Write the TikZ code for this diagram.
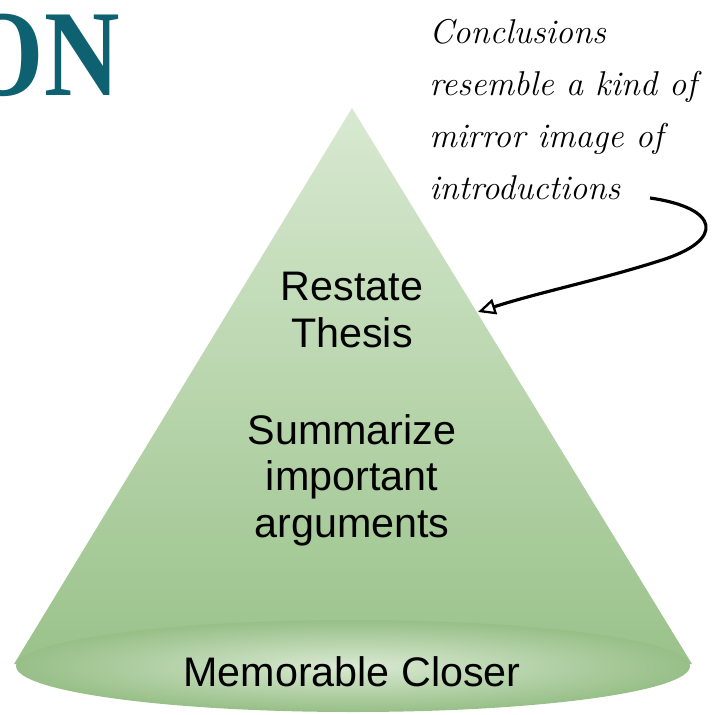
\documentclass[tikz,border=0pt]{standalone}
\usepackage{fontspec}
\newfontfamily\labelfont{Liberation Sans}
\newfontfamily\titlefont{Liberation Serif}
\usetikzlibrary{arrows.meta}

\definecolor{titleteal}{HTML}{0E6170}
\definecolor{conetop}{HTML}{D8E9D1}
\definecolor{conebottom}{HTML}{9AC28A}
\definecolor{baseinner}{HTML}{D9E9D2}
\definecolor{baseouter}{HTML}{97BF87}

\tikzset{
  step text/.style={font=\labelfont\fontsize{23.5}{26.5}\selectfont, align=center},
  note text/.style={font=\itshape\fontsize{19.6}{29.5}\selectfont, align=left, anchor=north west, inner sep=0pt},
  note arrow/.style={line width=1.8pt, -{Triangle[open, length=10pt, width=9pt, line width=1.3pt]}},
}

\begin{document}
\begin{tikzpicture}[x=0.02cm, y=-0.02cm]
  \useasboundingbox (0,0) rectangle (711,715);
  \begin{scope}
    \clip (0,0) rectangle (711,715);
    % cone
    \shade[top color=conetop, bottom color=conebottom] (352,108) -- (692,664) -- (14,664) -- cycle;
    \shade[inner color=baseinner, outer color=baseouter] (353,666) ellipse (337 and 46);
    % title fragment
    \node[anchor=south east, inner sep=0pt, text=titleteal, xscale=0.85,
          font=\titlefont\bfseries\fontsize{70}{70}\selectfont] (title) at (120,97) {ON};
  \end{scope}

  \node[step text] (restate) at (352,310) {Restate\\Thesis};
  \node[step text] (summary) at (352,480) {Summarize\\important\\arguments};
  \node[step text] (closer) at (352,672) {Memorable Closer};

  \node[note text] (note) at (429,19) {Conclusions\\resemble a kind of\\mirror image of\\introductions};

  \coordinate (arrowstart) at (650,198);
  \coordinate (arrowtip) at (478,312);
  \draw[note arrow] (arrowstart) .. controls (720,208) and (725,240) .. (662,260)
                    .. controls (600,280) and (540,292) .. (arrowtip);
\end{tikzpicture}
\end{document}
